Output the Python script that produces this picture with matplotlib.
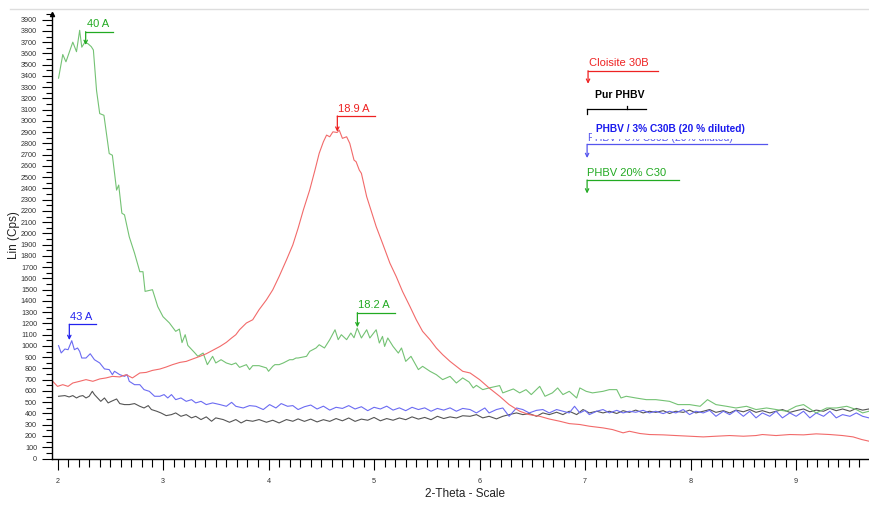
import matplotlib
matplotlib.use('Agg')
import matplotlib.pyplot as plt
from matplotlib.lines import Line2D
from matplotlib.ticker import MultipleLocator

plt.rcParams['font.family'] = ['Liberation Sans', 'DejaVu Sans']

# PHBV 20% C30 (green)
green_x = [2.01, 2.05, 2.08, 2.145, 2.18, 2.21, 2.23, 2.26, 2.29, 2.32, 2.34, 2.37, 2.40, 2.44,
           2.49, 2.52, 2.56, 2.58, 2.61, 2.635, 2.68, 2.73, 2.78, 2.81, 2.83, 2.90, 2.95, 3.00,
           3.06, 3.12, 3.155, 3.18, 3.21, 3.235, 3.30, 3.33, 3.38, 3.42, 3.47, 3.50, 3.55, 3.60,
           3.65, 3.69, 3.725, 3.79, 3.82, 3.85, 3.91, 3.98, 4.00, 4.04, 4.06, 4.10, 4.14, 4.17,
           4.20, 4.23, 4.26, 4.28, 4.36, 4.39, 4.45, 4.48, 4.53, 4.58, 4.63, 4.66, 4.69, 4.74,
           4.78, 4.81, 4.84, 4.88, 4.93, 4.96, 5.02, 5.05, 5.08, 5.10, 5.13, 5.18, 5.23, 5.26,
           5.30, 5.35, 5.42, 5.46, 5.53, 5.59, 5.65, 5.72, 5.78, 5.84, 5.90, 5.94, 5.97, 6.03,
           6.09, 6.19, 6.22, 6.32, 6.38, 6.44, 6.49, 6.57, 6.62, 6.69, 6.74, 6.79, 6.85, 6.92,
           6.95, 7.01, 7.07, 7.17, 7.23, 7.30, 7.34, 7.39, 7.48, 7.58, 7.67, 7.80, 7.88, 7.99,
           8.09, 8.16, 8.24, 8.34, 8.43, 8.53, 8.62, 8.72, 8.81, 8.91, 9.00, 9.07, 9.19, 9.29,
           9.38, 9.48, 9.57, 9.63, 9.69]
green_y = [3380, 3590, 3525, 3700, 3615, 3805, 3655, 3700, 3685, 3660, 3630, 3270, 3065, 3050,
           2710, 2695, 2385, 2430, 2180, 2165, 1970, 1825, 1660, 1660, 1485, 1500, 1350, 1260,
           1205, 1130, 1150, 1030, 1100, 1005, 940, 908, 937, 834, 908, 849, 878, 849,
           834, 849, 810, 834, 790, 825, 825, 805, 775, 819, 834, 834, 849, 863,
           878, 878, 893, 893, 908, 952, 982, 1011, 982, 1056, 1144, 1056, 1100, 1056,
           1115, 1073, 1159, 1071, 1144, 1071, 1144, 1026, 1085, 996, 1071, 996, 937, 982,
           863, 908, 790, 819, 775, 745, 701, 730, 671, 716, 680, 627, 650, 612,
           627, 648, 583, 618, 583, 612, 568, 641, 553, 583, 627, 568, 597, 538,
           627, 597, 583, 597, 612, 612, 538, 553, 538, 523, 523, 508, 479, 479,
           464, 523, 479, 464, 449, 464, 435, 449, 435, 420, 464, 479, 405, 449,
           449, 464, 435, 405, 420]

# Cloisite 30B (red)
red_x = [1.955, 2.00, 2.05, 2.10, 2.145, 2.21, 2.27, 2.335, 2.40, 2.46, 2.52, 2.59, 2.65, 2.71,
         2.78, 2.84, 2.90, 2.97, 3.03, 3.09, 3.16, 3.22, 3.28, 3.35, 3.41, 3.47, 3.54, 3.60,
         3.65, 3.69, 3.725, 3.79, 3.85, 3.91, 3.98, 4.04, 4.10, 4.17, 4.23, 4.28, 4.33, 4.39,
         4.44, 4.48, 4.52, 4.55, 4.58, 4.61, 4.65, 4.67, 4.70, 4.74, 4.77, 4.81, 4.83, 4.86,
         4.88, 4.93, 4.97, 5.02, 5.08, 5.15, 5.21, 5.27, 5.34, 5.40, 5.46, 5.53, 5.59, 5.65,
         5.72, 5.78, 5.84, 5.91, 6.00, 6.09, 6.19, 6.28, 6.38, 6.47, 6.57, 6.66, 6.76, 6.85,
         6.95, 7.04, 7.17, 7.26, 7.36, 7.42, 7.52, 7.61, 7.74, 7.86, 7.99, 8.12, 8.24, 8.37,
         8.50, 8.62, 8.68, 8.81, 8.94, 9.07, 9.19, 9.32, 9.44, 9.54, 9.62, 9.69]
red_y = [686, 641, 656, 641, 671, 686, 701, 686, 707, 716, 730, 725, 745, 716,
         760, 765, 783, 795, 813, 834, 854, 863, 884, 908, 931, 961, 996, 1032,
         1071, 1100, 1144, 1204, 1233, 1322, 1410, 1499, 1617, 1765, 1898, 2046, 2209, 2386,
         2563, 2712, 2815, 2874, 2859, 2903, 2897, 2918, 2845, 2859, 2800, 2652, 2637, 2563,
         2534, 2327, 2209, 2061, 1913, 1736, 1617, 1484, 1351, 1233, 1130, 1056, 982, 923,
         863, 819, 775, 760, 701, 627, 553, 479, 420, 390, 375, 351, 331, 310,
         302, 287, 272, 257, 228, 242, 222, 213, 210, 204, 198, 192, 198, 204,
         198, 204, 213, 204, 213, 210, 219, 213, 204, 192, 169, 154]

# PHBV / 3% C30B (blue)
blue_x = [2.01, 2.035, 2.07, 2.10, 2.135, 2.16, 2.19, 2.21, 2.23, 2.27, 2.31, 2.35, 2.40, 2.445,
          2.49, 2.52, 2.54, 2.59, 2.635, 2.66, 2.68, 2.73, 2.78, 2.82, 2.87, 2.92, 2.97, 3.01,
          3.045, 3.08, 3.12, 3.17, 3.22, 3.27, 3.31, 3.36, 3.41, 3.47, 3.54, 3.60, 3.65, 3.69,
          3.76, 3.82, 3.88, 3.95, 4.01, 4.07, 4.12, 4.18, 4.23, 4.28, 4.34, 4.40, 4.46, 4.52,
          4.58, 4.64, 4.70, 4.76, 4.82, 4.88, 4.94, 5.00, 5.06, 5.12, 5.18, 5.24, 5.30, 5.36,
          5.42, 5.48, 5.54, 5.60, 5.66, 5.72, 5.78, 5.84, 5.91, 5.97, 6.05, 6.09, 6.16, 6.22,
          6.28, 6.35, 6.41, 6.47, 6.54, 6.60, 6.66, 6.73, 6.79, 6.85, 6.90, 6.95, 7.00, 7.04,
          7.11, 7.17, 7.23, 7.30, 7.36, 7.42, 7.48, 7.55, 7.61, 7.67, 7.74, 7.80, 7.86, 7.93,
          7.99, 8.05, 8.12, 8.18, 8.24, 8.31, 8.37, 8.43, 8.50, 8.56, 8.62, 8.68, 8.75, 8.81,
          8.87, 8.94, 9.00, 9.07, 9.13, 9.19, 9.26, 9.32, 9.38, 9.44, 9.51, 9.57, 9.63, 9.69]
blue_y = [1003, 938, 973, 967, 1047, 967, 982, 952, 893, 893, 931, 878, 849, 796,
          790, 745, 775, 745, 730, 745, 686, 656, 656, 612, 597, 553, 553, 568,
          538, 568, 523, 538, 508, 523, 494, 508, 479, 494, 479, 464, 499, 464,
          449, 470, 464, 435, 479, 449, 488, 464, 470, 435, 460, 475, 440, 465,
          430, 455, 445, 470, 440, 460, 425, 455, 440, 465, 430, 450, 425, 455,
          435, 450, 420, 445, 430, 450, 420, 445, 435, 405, 449, 405, 435, 449,
          375, 449, 435, 405, 428, 435, 405, 435, 420, 405, 464, 405, 428, 390,
          420, 435, 405, 428, 405, 420, 411, 428, 405, 420, 399, 420, 405, 435,
          390, 420, 405, 428, 375, 420, 390, 428, 375, 420, 361, 405, 375, 420,
          361, 405, 375, 420, 361, 405, 375, 420, 361, 390, 375, 405, 375, 361]

# Pur PHBV (black)
black_x = [2.01, 2.07, 2.11, 2.145, 2.18, 2.21, 2.24, 2.27, 2.30, 2.33, 2.35, 2.38, 2.41, 2.445,
           2.48, 2.51, 2.56, 2.59, 2.635, 2.68, 2.73, 2.78, 2.82, 2.86, 2.89, 2.94, 2.98, 3.03,
           3.08, 3.12, 3.17, 3.22, 3.27, 3.31, 3.36, 3.41, 3.46, 3.50, 3.57, 3.63, 3.69, 3.74,
           3.79, 3.85, 3.91, 3.98, 4.04, 4.10, 4.17, 4.23, 4.28, 4.34, 4.40, 4.46, 4.52, 4.58,
           4.64, 4.70, 4.76, 4.82, 4.88, 4.94, 5.00, 5.06, 5.12, 5.18, 5.24, 5.30, 5.36, 5.42,
           5.48, 5.54, 5.60, 5.66, 5.72, 5.78, 5.84, 5.91, 5.97, 6.03, 6.09, 6.16, 6.22, 6.28,
           6.35, 6.41, 6.47, 6.54, 6.60, 6.66, 6.73, 6.79, 6.85, 6.92, 6.98, 7.04, 7.11, 7.17,
           7.23, 7.30, 7.36, 7.42, 7.48, 7.55, 7.61, 7.67, 7.74, 7.80, 7.86, 7.93, 7.99, 8.05,
           8.12, 8.18, 8.24, 8.31, 8.37, 8.43, 8.50, 8.56, 8.62, 8.68, 8.75, 8.81, 8.87, 8.94,
           9.00, 9.07, 9.13, 9.19, 9.26, 9.32, 9.38, 9.44, 9.51, 9.57, 9.63, 9.69]
black_y = [553, 559, 547, 559, 538, 553, 559, 538, 553, 597, 568, 538, 508, 538,
           494, 508, 529, 488, 479, 479, 488, 464, 449, 470, 435, 420, 405, 381,
           390, 405, 375, 390, 361, 375, 346, 370, 331, 361, 346, 322, 346, 316,
           340, 331, 346, 322, 340, 316, 346, 331, 352, 330, 350, 325, 345, 330,
           355, 335, 360, 330, 350, 340, 365, 335, 355, 340, 360, 345, 370, 350,
           365, 345, 375, 355, 370, 360, 380, 375, 390, 361, 375, 352, 375, 390,
           405, 390, 399, 375, 405, 390, 411, 390, 420, 390, 435, 405, 420, 405,
           420, 400, 425, 410, 430, 405, 420, 410, 425, 400, 420, 410, 430, 405,
           420, 435, 410, 425, 405, 430, 415, 435, 410, 425, 405, 420, 435, 410,
           425, 440, 415, 430, 420, 445, 425, 440, 420, 445, 430, 440]

series = [
    (black_x, black_y, '#555555'),
    (blue_x, blue_y, '#6b6bf2'),
    (green_x, green_y, '#74c274'),
    (red_x, red_y, '#f26a6a'),
]

# peak labels: text, peak position, arrow tip, line level, line end, colour
peak_labels = [
    ('40 A', 2.267, 3675, 3793, 2.523, '#22aa22'),
    ('18.9 A', 4.652, 2904, 3044, 5.01, '#ee2222'),
    ('18.2 A', 4.842, 1166, 1296, 5.199, '#22aa22'),
    ('43 A', 2.112, 1053, 1193, 2.365, '#2222ee'),
]

fig = plt.figure(figsize=(8.7, 5.07), dpi=100)
ax = fig.add_axes([51.7 / 870, 48.5 / 507, 1 - 51.7 / 870, 444.5 / 507])

for xs, ys, col in series:
    ax.plot(xs, ys, color=col, lw=0.8, zorder=2)

ax.spines['top'].set_visible(False)
ax.spines['right'].set_visible(False)
ax.spines['left'].set_linewidth(1.0)
ax.spines['bottom'].set_linewidth(1.0)

ax.yaxis.set_major_locator(MultipleLocator(100))
ax.yaxis.set_minor_locator(MultipleLocator(50))
ax.xaxis.set_major_locator(MultipleLocator(1))
ax.xaxis.set_minor_locator(MultipleLocator(0.1))
ax.tick_params(axis='y', which='major', length=7, width=0.8, pad=3.5, labelsize=5.2, labelcolor='#333333')
ax.tick_params(axis='y', which='minor', length=4, width=0.8)
ax.tick_params(axis='x', which='major', length=8, width=0.8, pad=6, labelsize=5.2, labelcolor='#333333')
ax.tick_params(axis='x', which='minor', length=6, width=0.8)
ax.set_yticks(range(0, 4000, 100))
ax.set_xlim(1.945, 9.70)
ax.set_ylim(0, 3950)

# small arrow at top of y axis
ax.plot([1.945], [3950], marker='^', ms=3, color='black', clip_on=False)

for txt, xp, ytip, yline, xend, col in peak_labels:
    ax.plot([xp, xend], [yline, yline], color=col, lw=0.9, zorder=4)
    ax.annotate('', xy=(xp, ytip), xytext=(xp, yline),
                arrowprops=dict(arrowstyle='->', color=col, lw=0.9,
                                shrinkA=0, shrinkB=0, mutation_scale=6), zorder=4)
    ax.text(xp + 0.01, yline + 20, txt, color=col, fontsize=8, ha='left', va='bottom', zorder=5)

# sample labels on the right
ax.plot([7.028, 7.692], [3446, 3446], color='#ee2222', lw=0.9)
ax.annotate('', xy=(7.028, 3330), xytext=(7.028, 3446),
            arrowprops=dict(arrowstyle='->', color='#ee2222', lw=0.9, shrinkA=0, shrinkB=0, mutation_scale=6))
ax.text(7.04, 3466, 'Cloisite 30B', color='#ee2222', fontsize=8, ha='left', va='bottom')

ax.plot([7.019, 7.578], [3103, 3103], color='black', lw=0.9)
ax.plot([7.019, 7.019], [3103, 3060], color='black', lw=0.9)
ax.plot([7.40, 7.40], [3103, 3130], color='black', lw=0.9)
ax.text(7.095, 3230, 'Pur PHBV', color='black', fontsize=7.5, fontweight='bold', ha='left', va='center',
        bbox=dict(facecolor='white', edgecolor='none', pad=3), zorder=6)

# partly hidden duplicate label under the bold one, as in the original
ax.plot([7.019, 8.725], [2792, 2792], color='#5555ee', lw=0.9, zorder=3)
ax.annotate('', xy=(7.019, 2670), xytext=(7.019, 2792),
            arrowprops=dict(arrowstyle='->', color='#5555ee', lw=0.9, shrinkA=0, shrinkB=0, mutation_scale=6))
ax.text(7.03, 2800, 'PHBV / 3% C30B (20% diluted)', color='#5555ee', fontsize=7.5, ha='left', va='bottom', zorder=3)
ax.text(7.104, 2925, 'PHBV / 3% C30B (20 % diluted)', color='#1a1aee', fontsize=7.3, fontweight='bold',
        ha='left', va='center', bbox=dict(facecolor='white', edgecolor='none', pad=3), zorder=6)

ax.plot([7.019, 7.89], [2475, 2475], color='#22aa22', lw=0.9)
ax.annotate('', xy=(7.019, 2355), xytext=(7.019, 2475),
            arrowprops=dict(arrowstyle='->', color='#22aa22', lw=0.9, shrinkA=0, shrinkB=0, mutation_scale=6))
ax.text(7.019, 2495, 'PHBV 20% C30', color='#22aa22', fontsize=8, ha='left', va='bottom')

fig.text(465 / 870, 1 - 494 / 507, '2-Theta - Scale', fontsize=8.5, ha='center', va='center', color='#222222')
fig.text(14 / 870, 1 - 235 / 507, 'Lin (Cps)', fontsize=8.5, rotation=90, ha='center', va='center', color='#222222')

fig.add_artist(Line2D([10 / 870, 1], [1 - 9.3 / 507, 1 - 9.3 / 507], color='#dddddd', lw=1))

fig.savefig('out.png', dpi=100)
